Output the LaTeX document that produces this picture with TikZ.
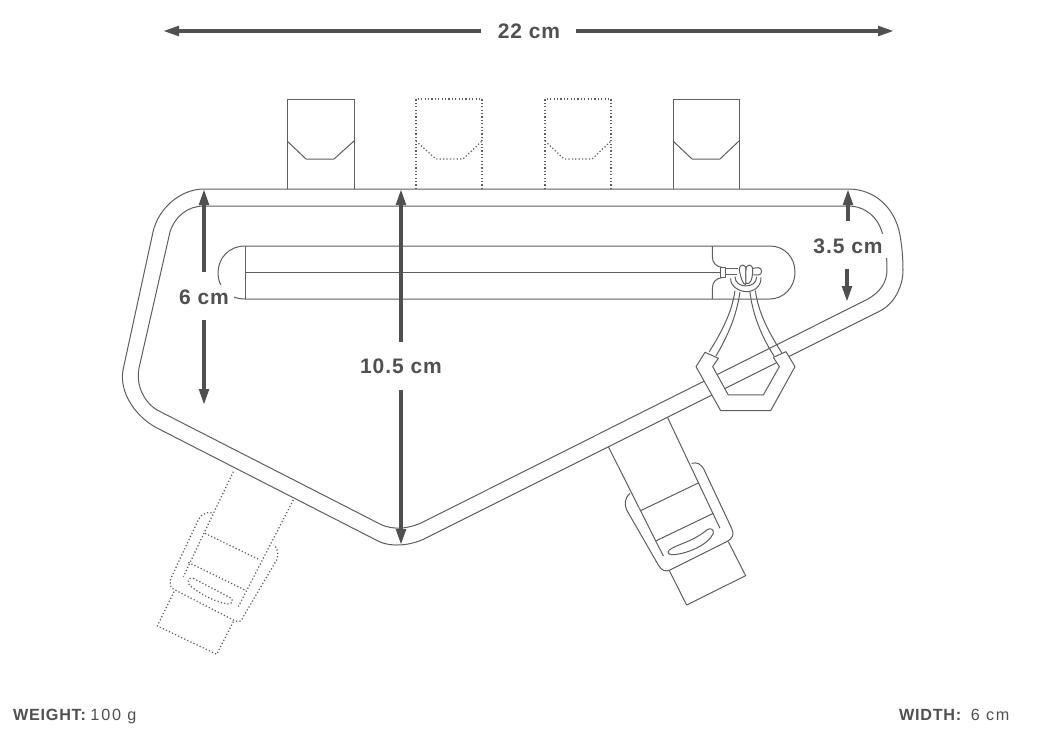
\documentclass[tikz,border=0pt]{standalone}
\usepackage{fontspec}
\setmainfont{Liberation Sans}
\newfontfamily\dimfont[LetterSpace=4.5]{Liberation Sans}
\newfontfamily\footbold[LetterSpace=4.5]{Liberation Sans}
\newfontfamily\footval[LetterSpace=11]{Liberation Sans}
\usetikzlibrary{arrows.meta}
\definecolor{ink}{HTML}{505050}
\definecolor{linegray}{HTML}{5E5E5E}
\tikzset{
  outline/.style={draw=linegray,line width=1pt,line join=round},
  dots/.style={draw=linegray,line width=1.25pt,dash pattern=on 1.2pt off 2.2pt},
  dim/.style={draw=ink,line width=3.6pt,-{Triangle[length=16pt,width=9.5pt]}},
  dimlabel/.style={fill=white,text=ink,font=\fontsize{21}{24}\dimfont\bfseries,inner sep=5pt},
  foot/.style={text=ink,font=\fontsize{16.2}{18}\selectfont,inner sep=0pt,anchor=base west},
  mask/.style={outline,fill=white}
}
\begin{document}
\begin{tikzpicture}[x=1pt,y=-1pt]
\useasboundingbox[fill=white] (0,0) rectangle (1037,739);
% top loops
\draw[outline] (287,189) -- (287,99) -- (354,99) -- (354,189);
\draw[outline] (287,141) -- (306,159) -- (334,159) -- (354,141);
\draw[outline] (673,189) -- (673,99) -- (739,99) -- (739,189);
\draw[outline] (673,141) -- (692,159) -- (720,159) -- (739,141);
\draw[dots] (416,189) -- (416,99) -- (482,99) -- (482,189);
\draw[dots] (416,141) -- (436,159) -- (463,159) -- (482,141);
\draw[dots] (545,189) -- (545,99) -- (611,99) -- (611,189);
\draw[dots] (545,141) -- (564,159) -- (592,159) -- (611,141);
% right strap
\begin{scope}[shift={(590,430)},x=0.3333pt,y=-0.3333pt]
\draw[outline] (55,50) -- (220,378);
\draw[outline] (215,-75) -- (390,295);
\draw[outline] (150,243) -- (327,158);
\draw[outline] (197,333) -- (370,250);
\draw[outline] (120,190) .. controls (103,205) and (103,225) .. (110,240) -- (205,405) .. controls (215,423) and (228,426) .. (240,420) -- (410,335) .. controls (430,325) and (433,312) .. (425,295) -- (345,125) .. controls (335,100) and (320,96) .. (305,100);
\draw[outline] (238,360) .. controls (255,345) and (310,335) .. (350,300) .. controls (362,292) and (372,298) .. (370,310) .. controls (355,345) and (290,372) .. (250,374) .. controls (235,375) and (230,368) .. (238,360) -- cycle;
\draw[outline] (238,422) -- (290,525) -- (467,437) -- (415,335);
\end{scope}
% left strap
\begin{scope}[shift={(150,460)},x=0.3333pt,y=-0.3333pt]
\draw[dots] (250,35) -- (100,350);
\draw[dots] (430,120) -- (265,440);
\draw[dots] (165,220) -- (330,300);
\draw[dots] (115,307) -- (285,390);
\draw[dots] (185,158) .. controls (160,155) and (148,170) .. (140,190) -- (65,350) .. controls (55,375) and (62,385) .. (75,390) -- (250,480) .. controls (270,490) and (275,482) .. (280,470) -- (380,300) .. controls (388,280) and (382,262) .. (370,255);
\draw[dots] (130,355) -- (235,410) .. controls (252,415) and (252,432) .. (232,432) .. controls (190,425) and (140,395) .. (118,375) .. controls (110,362) and (118,350) .. (130,355) -- cycle;
\draw[dots] (72,395) -- (22,498) -- (200,583) -- (250,485);
\end{scope}
% bag body
\draw[outline,fill=white] (204,189) -- (848,189) .. controls (875,189) and (895,208) .. (900,235) .. controls (902,247) and (903,258) .. (903,270) .. controls (903,288) and (893,304.5) .. (880,311) -- (425,538.5) .. controls (412,545) and (392,548) .. (378,541) -- (157,428) .. controls (136,417) and (119,393) .. (123,370) -- (153,232) .. controls (158,209) and (180,189) .. (204,189) -- cycle;
\draw[outline] (204,206) -- (848,206) .. controls (866,206) and (878,218) .. (882,232) .. controls (885,245) and (887,255) .. (887,270) .. controls (887,282) and (880,293) .. (866,300) -- (425,521) .. controls (410,529) and (392,531) .. (378,523) -- (157,410) .. controls (143,401) and (136,385) .. (139,368) -- (170,232) .. controls (175,216) and (188,206) .. (204,206) -- cycle;
% zipper pocket
\draw[outline] (245,246) -- (770,246) .. controls (785,246) and (795,258) .. (795,272) .. controls (795,288) and (783,299) .. (770,299) -- (245,299) .. controls (228,299) and (218,287) .. (218,273) .. controls (218,258) and (229,246) .. (245,246) -- cycle;
\draw[outline] (245,246) -- (245,299);
\draw[outline] (245,272) -- (720,272);
% zipper pull and toggle
\begin{scope}[shift={(680,230)},x=0.3333pt,y=-0.3333pt]
\draw[outline] (97,48) -- (97,80) .. controls (97,100) and (110,110) .. (125,112);
\draw[outline] (97,207) -- (97,175) .. controls (97,155) and (110,145) .. (125,143);
\draw[outline] (122,112) -- (122,143) -- (135,143) -- (135,112) -- cycle;
\draw[outline] (135,115) -- (175,115);
\draw[outline] (135,135) -- (170,135);
\draw[outline] (218,115) -- (235,113) .. controls (248,113) and (248,135) .. (235,135) -- (220,135);
\draw[outline] (152,145) .. controls (150,170) and (180,185) .. (200,185) .. controls (225,185) and (245,165) .. (243,142);
\draw[outline] (165,140) .. controls (165,158) and (180,168) .. (198,168) .. controls (215,168) and (230,158) .. (230,140);
\draw[mask] (178,120) .. controls (178,100) and (198,100) .. (198,120) -- (198,160) .. controls (198,168) and (186,165) .. (178,120) -- cycle;
\draw[mask] (198,120) .. controls (198,100) and (218,100) .. (218,120) .. controls (218,150) and (210,165) .. (198,160) -- cycle;
\draw[outline] (165,182) .. controls (155,250) and (125,305) .. (88,365);
\draw[outline] (180,186) .. controls (170,255) and (145,315) .. (108,378);
\draw[outline] (210,186) .. controls (218,255) and (245,320) .. (282,378);
\draw[outline] (226,182) .. controls (236,250) and (265,305) .. (305,368);
\draw[mask] (75,367) -- (48,410) -- (122,542) -- (272,542) -- (345,410) -- (318,365) -- (280,382) -- (298,410) -- (250,495) -- (145,495) -- (98,410) -- (115,385) -- cycle;
\end{scope}
% dimensions
\node[dimlabel] (lw) at (529,31) {22 cm};
\coordinate (wl) at (163,31);
\coordinate (wr) at (894,31);
\coordinate (wls) at (481,31);
\coordinate (wrs) at (576,31);
\draw[dim] (wls) -- (wl);
\draw[dim] (wrs) -- (wr);
\node[dimlabel] (l6) at (204,297) {6 cm};
\coordinate (a6t) at (204,189);
\coordinate (a6b) at (204,405);
\draw[dim] (204,272) -- (a6t);
\draw[dim] (204,320) -- (a6b);
\node[dimlabel] (l10) at (401,366) {10.5 cm};
\coordinate (a10t) at (401,189);
\coordinate (a10b) at (401,545);
\draw[dim] (401,342) -- (a10t);
\draw[dim] (401,390) -- (a10b);
\node[dimlabel] (l35) at (848,246) {3.5 cm};
\coordinate (a35t) at (848,189);
\coordinate (a35b) at (847,302);
\draw[dim] (848,221) -- (a35t);
\draw[dim] (847,269) -- (a35b);
% footer
\node[foot] (fw) at (13,720) {{\footbold\bfseries WEIGHT:} {\footval 100 g}};
\node[foot] (fd) at (899,720) {{\footbold\bfseries WIDTH:}\hspace{5pt} {\footval 6 cm}};
\end{tikzpicture}
\end{document}
